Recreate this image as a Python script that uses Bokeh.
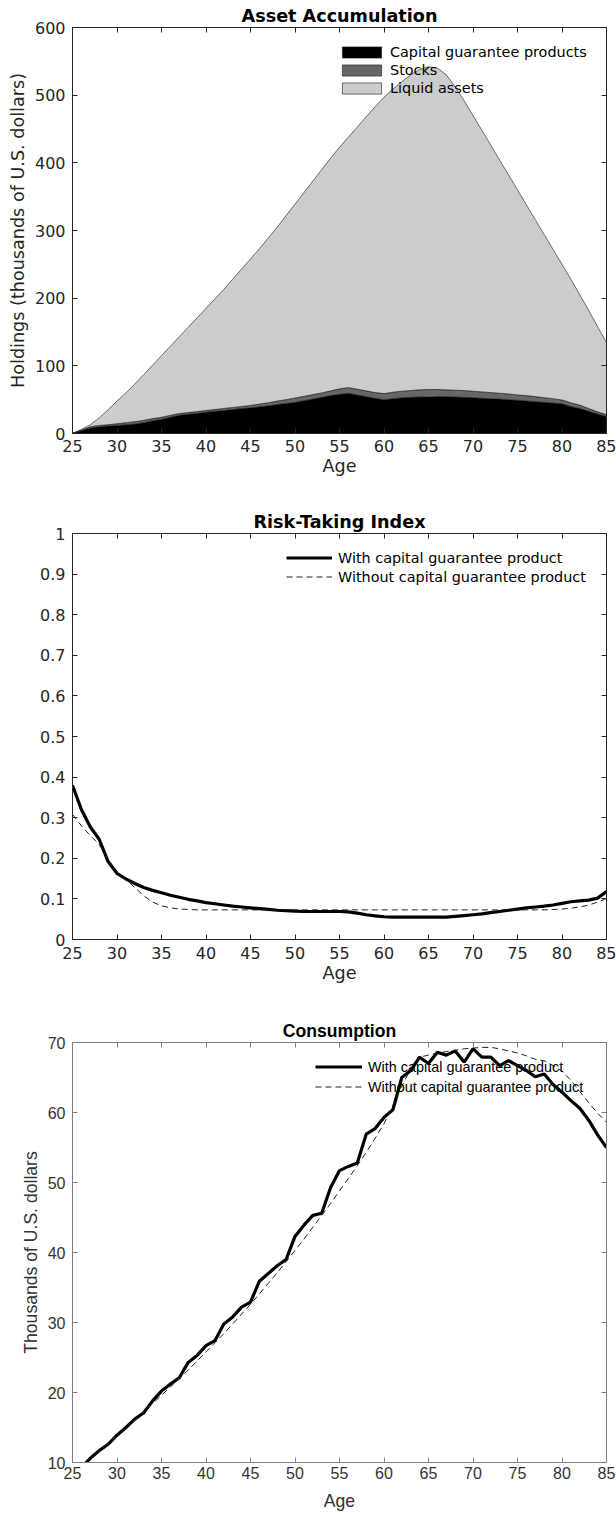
import numpy as np
from bokeh.plotting import figure
from bokeh.layouts import column
from bokeh.models import Range1d, FixedTicker, LinearAxis, Legend, LegendItem
from bokeh.embed import file_html
from bokeh.resources import INLINE

# ---------------------------------------------------------------- data
ages = list(range(25, 86))
age_ticks = [25, 30, 35, 40, 45, 50, 55, 60, 65, 70, 75, 80, 85]

# holdings by asset class, thousands of U.S. dollars
capital_guarantee = [0, 4, 8, 10, 11, 12, 13, 14, 16, 19, 21, 24, 27, 28.5, 30, 31.5,
                     33, 34, 35.5, 37, 38, 39.5, 41, 43, 44.5, 46, 48.5, 51, 53.5, 56,
                     58, 59.5, 57, 54.5, 52, 50, 51.5, 53, 53.5, 54, 54, 54.5, 54.5, 54,
                     53.5, 53, 52, 51.5, 51, 50, 49, 48, 47, 46, 45, 44, 40, 37, 33, 29, 25]
stocks = [0, 1, 2, 2, 2, 2.5, 3, 3.5, 3.5, 3, 3, 3, 2.5, 2.5, 2.5, 2.5,
          2.5, 3, 3, 3, 3.5, 4, 4.5, 5, 5.5, 6.5, 6.5, 6.5, 6.5, 7,
          8, 8.5, 8.5, 8.5, 8.5, 9, 9.5, 9.5, 10, 10.5, 11, 10.5, 10, 10,
          10, 9.5, 9.5, 9, 8.5, 8.5, 8, 8, 7.5, 7, 6.5, 5.5, 5.5, 5, 4, 3, 3]
liquid_assets = [0, 1, 3, 11, 22, 33.5, 44, 55.5, 67.5, 79, 91, 102, 113.5, 126, 138.5, 151,
                 163.5, 176, 189.5, 203, 216.5, 229.5, 243.5, 257, 272, 286.5, 301, 315.5, 330, 344,
                 357, 370, 387.5, 405, 422.5, 438, 448, 457.5, 466.5, 473.5, 477, 475, 465.5, 448,
                 428.5, 407.5, 386.5, 365.5, 344.5, 323.5, 303, 282, 261.5, 241, 220.5, 200.5,
                 182.5, 163, 145, 126, 106]
holdings_ticks = [0, 100, 200, 300, 400, 500, 600]

# risk-taking index
risk_with = [0.380, 0.320, 0.277, 0.247, 0.192, 0.163, 0.149, 0.138, 0.128, 0.121,
             0.115, 0.109, 0.104, 0.099, 0.095, 0.091, 0.088, 0.085, 0.082, 0.080,
             0.078, 0.076, 0.074, 0.072, 0.071, 0.070, 0.069, 0.069, 0.069, 0.069,
             0.069, 0.068, 0.065, 0.061, 0.058, 0.056, 0.055, 0.055, 0.055, 0.055,
             0.055, 0.055, 0.055, 0.057, 0.059, 0.061, 0.063, 0.066, 0.069, 0.072,
             0.075, 0.078, 0.080, 0.082, 0.085, 0.089, 0.093, 0.095, 0.097, 0.102, 0.118]
risk_without = [0.308, 0.280, 0.256, 0.234, 0.196, 0.166, 0.148, 0.128, 0.108, 0.092,
                0.083, 0.078, 0.075, 0.074, 0.073, 0.073, 0.073, 0.073, 0.073, 0.073,
                0.073, 0.073, 0.073, 0.073, 0.073, 0.073, 0.073, 0.073, 0.073, 0.073,
                0.073, 0.073, 0.073, 0.073, 0.073, 0.073, 0.073, 0.073, 0.073, 0.073,
                0.073, 0.073, 0.073, 0.073, 0.073, 0.073, 0.073, 0.073, 0.073, 0.073,
                0.073, 0.073, 0.073, 0.073, 0.074, 0.075, 0.077, 0.080, 0.085, 0.092, 0.101]
risk_ticks = [0, 0.1, 0.2, 0.3, 0.4, 0.5, 0.6, 0.7, 0.8, 0.9, 1]
risk_tick_labels = ["0", "0.1", "0.2", "0.3", "0.4", "0.5", "0.6", "0.7", "0.8", "0.9", "1"]

# consumption, thousands of U.S. dollars
cons_with = [8.2, 9.3, 10.6, 11.7, 12.6, 13.9, 15.0, 16.2, 17.1, 18.8,
             20.2, 21.2, 22.1, 24.3, 25.3, 26.7, 27.4, 29.8, 30.8, 32.2,
             32.9, 35.9, 37.0, 38.1, 39.0, 42.3, 43.9, 45.3, 45.6, 49.3,
             51.7, 52.3, 52.8, 56.9, 57.7, 59.3, 60.4, 65.0, 66.0, 67.9,
             67.0, 68.6, 68.2, 68.8, 67.2, 69.1, 67.9, 67.9, 66.7, 67.4,
             66.7, 66.0, 65.1, 65.5, 64.0, 62.9, 61.7, 60.6, 58.9, 56.8, 55.0]
cons_without = [8.4, 9.5, 10.6, 11.7, 12.8, 13.9, 15.0, 16.1, 17.3, 18.4,
                19.6, 20.8, 22.0, 23.2, 24.5, 25.8, 27.1, 28.4, 29.8, 31.2,
                32.6, 34.1, 35.6, 37.1, 38.7, 40.3, 41.9, 43.6, 45.3, 47.0,
                48.8, 50.6, 52.4, 54.3, 56.3, 58.4, 61.0, 63.8, 66.2, 67.9,
                68.2, 68.5, 68.7, 68.9, 69.1, 69.2, 69.3, 69.3, 69.1, 68.8,
                68.5, 68.1, 67.6, 67.4, 66.7, 65.9, 64.6, 63.0, 61.4, 59.9, 58.6]
cons_ticks = [10, 20, 30, 40, 50, 60, 70]


# ---------------------------------------------------------------- helpers
def make_panel(height, border_top, border_bottom, title, y_lo, y_hi, y_ticks,
               font, text_color, frame_color, tick_standoff_x, label_standoff_x,
               label_standoff_y, title_standoff, y_label=None, y_overrides=None):
    p = figure(width=616, height=height,
               x_range=Range1d(25, 85), y_range=Range1d(y_lo, y_hi),
               output_backend="svg", toolbar_location=None,
               min_border_left=72, min_border_right=10,
               min_border_top=border_top, min_border_bottom=border_bottom)
    p.xgrid.visible = False
    p.ygrid.visible = False
    p.outline_line_color = frame_color
    p.outline_line_width = 1
    p.background_fill_color = "white"
    p.border_fill_color = "white"

    p.title.text = title
    p.title.align = "center"
    p.title.text_font = font
    p.title.text_font_size = "17.6px"
    p.title.text_font_style = "bold"
    p.title.text_color = "black"
    p.title.standoff = title_standoff

    xa = p.xaxis[0]
    ya = p.yaxis[0]
    xa.ticker = FixedTicker(ticks=age_ticks)
    ya.ticker = FixedTicker(ticks=y_ticks)
    xa.axis_label = "Age"
    if y_label:
        ya.axis_label = y_label
    if y_overrides:
        ya.major_label_overrides = y_overrides
    for ax in (xa, ya):
        ax.major_tick_in = 5
        ax.major_tick_out = 0
        ax.minor_tick_line_color = None
        ax.axis_line_color = frame_color
        ax.major_tick_line_color = frame_color
        ax.major_label_text_font = font
        ax.major_label_text_font_size = "16px"
        ax.major_label_text_color = text_color
        ax.axis_label_text_font = font
        ax.axis_label_text_font_size = "17.6px"
        ax.axis_label_text_font_style = "normal"
        ax.axis_label_text_color = text_color
    xa.major_label_standoff = tick_standoff_x
    xa.axis_label_standoff = label_standoff_x
    ya.major_label_standoff = 7
    ya.axis_label_standoff = label_standoff_y

    # tick marks on the top and right edges of the box, without labels
    for side, ticks in (("above", age_ticks), ("right", y_ticks)):
        ax = LinearAxis(ticker=FixedTicker(ticks=ticks))
        ax.major_tick_in = 5
        ax.major_tick_out = 0
        ax.minor_tick_line_color = None
        ax.axis_line_color = frame_color
        ax.major_tick_line_color = frame_color
        ax.major_label_text_font_size = "1px"
        ax.major_label_text_color = None
        ax.major_label_text_alpha = 0
        ax.major_label_standoff = 0
        p.add_layout(ax, side)
    return p


# ---------------------------------------------------------------- asset accumulation
p1 = make_panel(480, 27, 47, "Asset Accumulation", 0, 600, holdings_ticks,
                "DejaVu Sans", "#262626", "#262626", 6, 1, 4, 4,
                y_label="Holdings (thousands of U.S. dollars)")

layers = [("Capital guarantee products", capital_guarantee, "#000000"),
          ("Stocks", stocks, "#666666"),
          ("Liquid assets", liquid_assets, "#cccccc")]
lower = np.zeros(len(ages))
items1 = []
for name, vals, color in layers:
    upper = lower + np.array(vals, dtype=float)
    xs = list(ages) + list(ages[::-1])
    ys = list(upper) + list(lower[::-1])
    r = p1.patch(xs, ys, fill_color=color, line_color="#1a1a1a", line_width=0.6)
    items1.append(LegendItem(label=name, renderers=[r]))
    lower = upper

leg1 = Legend(items=items1, location=(265, 337), padding=0, margin=0,
              spacing=1, glyph_width=49, glyph_height=14, label_height=17,
              label_standoff=4, label_text_font="DejaVu Sans",
              label_text_font_size="14.4px", label_text_color="#000000",
              background_fill_alpha=0, border_line_color=None)
p1.add_layout(leg1, "center")

# ---------------------------------------------------------------- risk-taking index
p2 = make_panel(510, 53, 51, "Risk-Taking Index", 0, 1, risk_ticks,
                "DejaVu Sans", "#262626", "#262626", 7, 1, 4, 3,
                y_overrides=dict(zip(risk_ticks, risk_tick_labels)))
r_with = p2.line(ages, risk_with, line_color="black", line_width=3.2)
r_without = p2.line(ages, risk_without, line_color="#202020", line_width=1,
                    line_dash="6 4")
leg2 = Legend(items=[LegendItem(label="With capital guarantee product", renderers=[r_with]),
                     LegendItem(label="Without capital guarantee product", renderers=[r_without])],
              location=(214, 354), padding=0, margin=0, spacing=2,
              glyph_width=46, glyph_height=17, label_height=17, label_standoff=6,
              label_text_font="DejaVu Sans", label_text_font_size="14.4px",
              label_text_color="#000000", background_fill_alpha=0, border_line_color=None)
p2.add_layout(leg2, "center")

# ---------------------------------------------------------------- consumption
p3 = make_panel(525, 52, 53, "Consumption", 10, 70, cons_ticks,
                "Liberation Sans", "#333333", "#808080", 4, 9, 4, 4,
                y_label="Thousands of U.S. dollars")
c_with = p3.line(ages, cons_with, line_color="black", line_width=3.2)
c_without = p3.line(ages, cons_without, line_color="#202020", line_width=1,
                    line_dash="6 4")
leg3 = Legend(items=[LegendItem(label="With capital guarantee product", renderers=[c_with]),
                     LegendItem(label="Without capital guarantee product", renderers=[c_without])],
              location=(243, 367), padding=0, margin=0, spacing=3,
              glyph_width=47, glyph_height=17, label_height=17, label_standoff=6,
              label_text_font="Liberation Sans", label_text_font_size="14.4px",
              label_text_color="#000000", background_fill_alpha=0, border_line_color=None)
p3.add_layout(leg3, "center")

page = column(p1, p2, p3, spacing=0)
open("out.html", "w").write(file_html(page, INLINE))
